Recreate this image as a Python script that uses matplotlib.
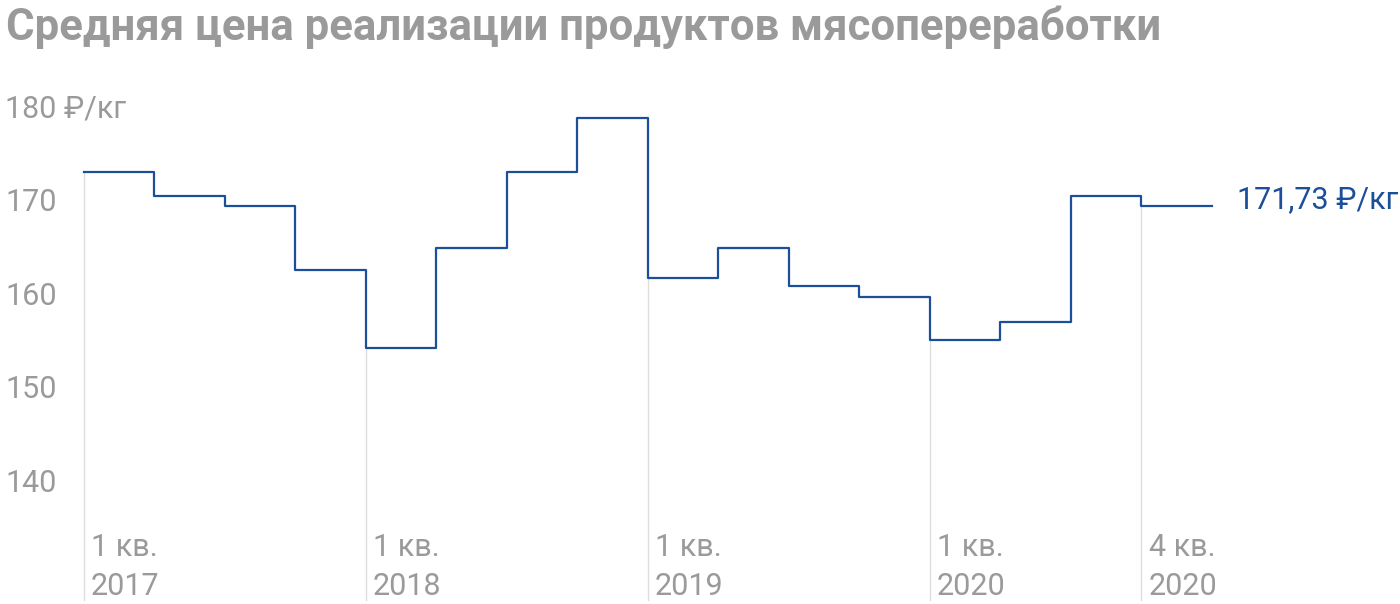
import numpy as np
import matplotlib.pyplot as plt

plt.rcParams['font.family'] = ['Roboto', 'DejaVu Sans']

# Средняя цена по кварталам, 1 кв. 2017 – 4 кв. 2020, ₽/кг
prices = [173.3, 170.8, 169.7, 162.8,
          154.5, 165.2, 173.3, 179.1,
          162.0, 165.2, 161.1, 159.9,
          155.3, 157.3, 170.8, 169.7]
last_label = '171,73 ₽/кг'
marks = [0, 4, 8, 12, 15]
mark_labels = ['1 кв.\n2017', '1 кв.\n2018', '1 кв.\n2019', '1 кв.\n2020', '4 кв.\n2020']
yticks = [140, 150, 160, 170, 180]

gray = '#9a9a9a'
blue = '#1c4f99'

fig = plt.figure(figsize=(14, 6.04), dpi=100)
ax = fig.add_axes([0, 0, 1, 1])
ax.set_xlim(-1.191, 18.667)
ax.set_ylim(127.11, 191.71)
ax.axis('off')

x = np.arange(len(prices) + 1)
y = prices + [prices[-1]]
ax.step(x, y, where='post', color=blue, lw=1.6, zorder=3)

for m, lab in zip(marks, mark_labels):
    ax.plot([m, m], [127.5, prices[m]], color='#dddddd', lw=1, zorder=1)
    ax.text(m + 0.1, 131.1, lab, color=gray, fontsize=22, va='center',
            ha='left', linespacing=1.45)

for t in yticks:
    s = f'{t} ₽/кг' if t == 180 else str(t)
    ax.text(-1.12, t, s, color=gray, fontsize=22, va='center', ha='left')

ax.text(len(prices) + 0.35, 170.4, last_label, color=blue, fontsize=22,
        va='center', ha='left')

fig.text(0.004, 0.955, 'Средняя цена реализации продуктов мясопереработки',
         color=gray, fontsize=31.5, fontweight='bold', va='center', ha='left')

fig.savefig('out.png', dpi=100)
